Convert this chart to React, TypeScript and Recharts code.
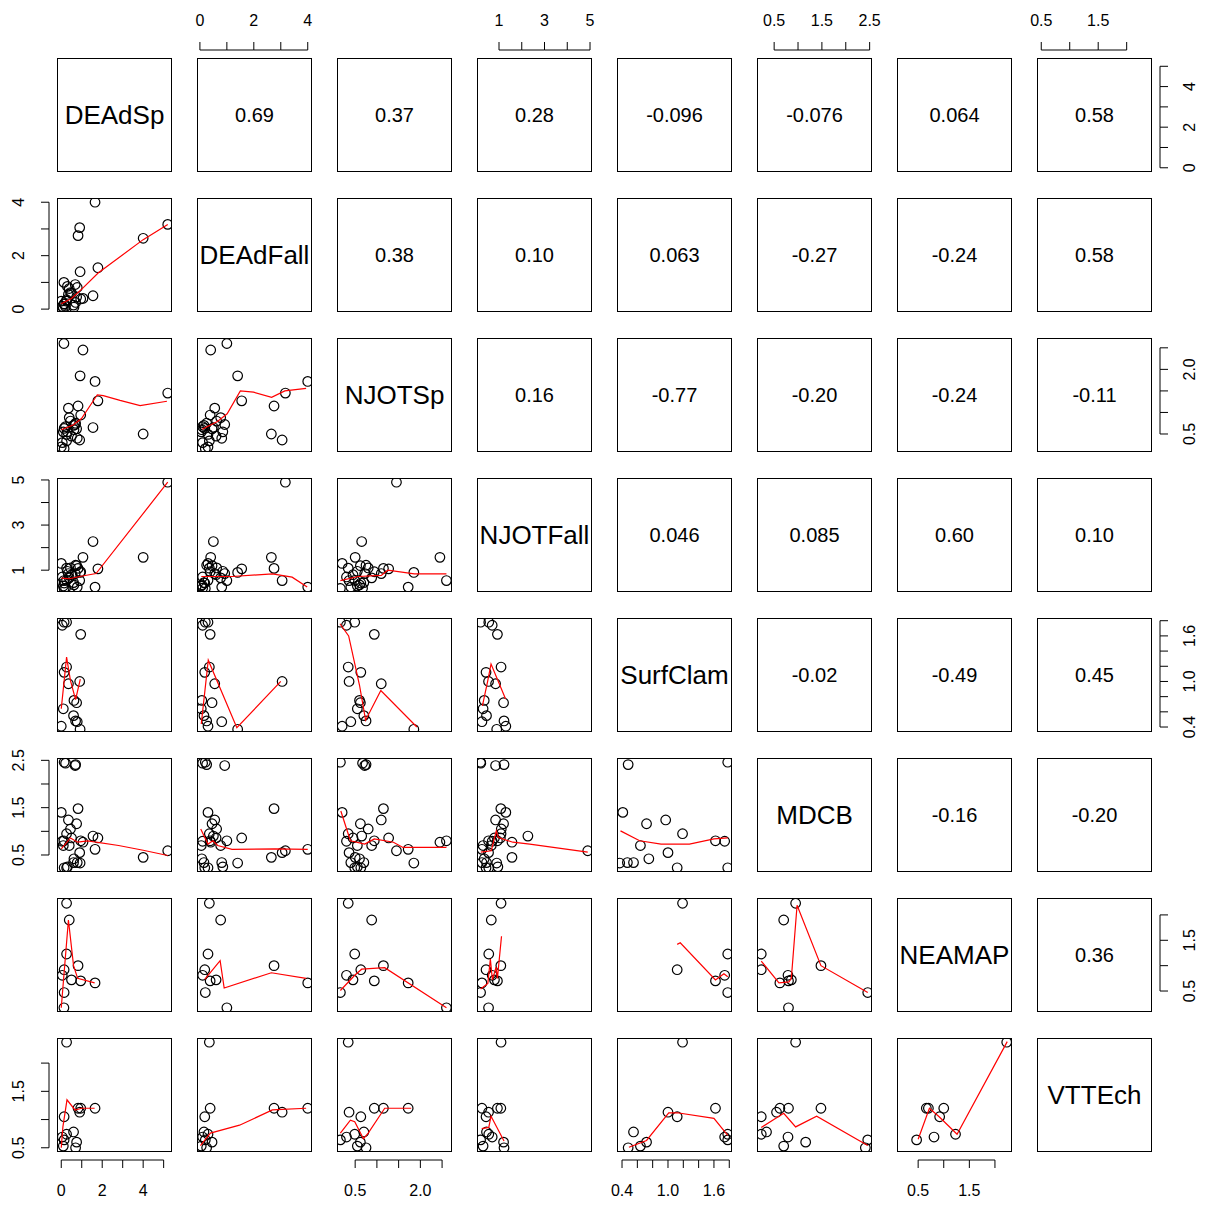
import React from "react";
import { ScatterChart, Scatter, XAxis, YAxis } from "recharts";

const varNames = ["DEAdSp", "DEAdFall", "NJOTSp", "NJOTFall", "SurfClam", "MDCB", "NEAMAP", "VTTEch"];

// one value per observation, null where the value is missing
const DEAdSp = [0.26, 0.39, 0.26, 0.14, 1.65, 0.82, 0.95, 0.9, 0.14, 0.05, 0.6, 0.75, 0.1, 0.7, 0.13, 0.5, 5.2, 4.0, 1.06, 1.55, 1.79, 0.92, 0.0, 0.35, 0.62, 0.78, 0.21, 0.68, 0.45, 0.3];
const DEAdFall = [0.35, 0.77, 0.3, 0.18, 4.0, 2.75, 0.38, 3.05, 0.2, 0.1, 0.15, 0.45, 0.05, 0.25, 1.0, 0.6, 3.17, 2.65, 0.4, 0.5, 1.55, 1.4, 0.3, 0.55, 0.07, 0.81, 0.1, 0.92, 0.62, 0.85];
const NJOTSp = [0.34, 0.88, 0.49, 0.63, 1.72, 1.15, 0.94, 0.36, 0.16, 0.3, 0.7, 0.62, 0.55, 0.75, 2.6, 0.45, 1.45, 0.5, 2.45, 0.65, 1.27, 1.85, 0.2, 1.1, 0.6, 0.4, 0.67, 0.72, 0.8, 0.55];
const NJOTFall = [1.09, 0.66, 0.55, 0.43, 0.25, 1.08, 0.93, 0.54, 0.19, 0.7, 0.45, 1.2, 0.3, 1.22, 0.54, 0.8, 4.9, 1.57, 1.57, 2.27, 1.06, 0.9, 1.3, 0.85, 0.35, 0.25, 0.2, 0.85, 1.1, 0.95];
const SurfClam = [1.19, null, 1.78, 1.12, null, null, 1.62, 1.0, 1.78, 1.74, 0.55, 0.72, 0.64, 0.48, null, null, null, null, null, null, null, 0.37, 0.41, 0.97, 0.75, 0.47, null, null, null, null];
const MDCB = [0.95, 0.7, 0.23, 0.23, 0.62, 1.48, 0.8, 0.55, 2.46, 0.79, 0.34, 1.16, 0.7, 2.41, 0.8, 0.86, 0.59, 0.45, 0.77, 0.9, 0.86, 0.33, 1.4, 1.24, 0.42, 0.34, 2.44, 2.39, 1.05, 0.25];
const NEAMAP = [2.23, 1.9, 1.23, 0.92, 0.66, 1.0, 0.7, null, 0.47, 0.81, null, null, null, null, 0.17, 0.72, null, null, null, null, null, null, null, null, null, null, null, null, null, null];
const VTTEch = [2.37, null, 0.74, 1.05, 1.2, 1.2, 1.2, 1.13, 0.64, 0.69, 0.78, 0.6, 0.53, 0.5, null, null, null, null, null, null, null, null, null, null, null, null, null, null, null, null];

const columns = [DEAdSp, DEAdFall, NJOTSp, NJOTFall, SurfClam, MDCB, NEAMAP, VTTEch];

// data range of each variable
const ranges = [[0, 5.2], [0.05, 4.0], [0.18, 2.63], [0.22, 4.9], [0.39, 1.78], [0.23, 2.46], [0.17, 2.25], [0.5, 2.37]];

const tickVals = [
  [0, 1, 2, 3, 4, 5],
  [0, 1, 2, 3, 4],
  [0.5, 1, 1.5, 2, 2.5],
  [1, 2, 3, 4, 5],
  [0.4, 0.6, 0.8, 1, 1.2, 1.4, 1.6, 1.8],
  [0.5, 1, 1.5, 2, 2.5],
  [0.5, 1, 1.5, 2],
  [0.5, 1, 1.5, 2],
];
const tickLabels = [
  ["0", "", "2", "", "4", ""],
  ["0", "", "2", "", "4"],
  ["0.5", "", "", "2.0", ""],
  ["1", "", "3", "", "5"],
  ["0.4", "", "", "1.0", "", "", "1.6", ""],
  ["0.5", "", "1.5", "", "2.5"],
  ["0.5", "", "1.5", ""],
  ["0.5", "", "1.5", ""],
];

const corRow1 = ["0.69", "0.37", "0.28", "-0.096", "-0.076", "0.064", "0.58"];
const corRow2 = ["0.38", "0.10", "0.063", "-0.27", "-0.24", "0.58"];
const corRow3 = ["0.16", "-0.77", "-0.20", "-0.24", "-0.11"];
const corRow4 = ["0.046", "0.085", "0.60", "0.10"];
const corRow5 = ["-0.02", "-0.49", "0.45"];
const corRow6 = ["-0.16", "-0.20"];
const corRow7 = ["0.36"];
const corRows = [corRow1, corRow2, corRow3, corRow4, corRow5, corRow6, corRow7];

// red smoother lines, [x, y] per panel (row, col)
const lo10 = [[0, 0.2], [0.5, 0.4], [1.0, 0.75], [1.8, 1.35], [4.0, 2.6], [5.2, 3.17]];
const lo20 = [[0, 0.6], [0.58, 0.71], [0.99, 0.86], [1.76, 1.41], [2.05, 1.39], [2.87, 1.28], [3.85, 1.16], [5.16, 1.26]];
const lo21 = [[0.08, 0.61], [0.65, 0.79], [1.01, 0.97], [1.5, 1.5], [1.99, 1.47], [2.66, 1.35], [3.15, 1.5], [3.94, 1.56]];
const lo30 = [[0, 0.65], [0.4, 0.62], [0.9, 0.72], [1.7, 0.85], [5.2, 4.9]];
const lo31 = [[0.05, 0.72], [1.2, 0.72], [2.69, 0.84], [3.42, 0.69], [3.98, 0.25]];
const lo32 = [[0.16, 0.54], [0.57, 0.72], [1.1, 0.77], [1.25, 1.0], [1.86, 0.84], [2.6, 0.84]];
const lo40 = [[0.0, 0.64], [0.26, 1.32], [0.45, 1.01], [0.7, 0.76], [0.93, 1.03]];
const lo41 = [[0.05, 0.44], [0.31, 1.28], [1.37, 0.39], [3.0, 1.0]];
const lo42 = [[0.15, 1.76], [0.35, 1.6], [0.6, 0.95], [0.74, 0.49], [1.09, 0.88], [1.92, 0.4]];
const lo43 = [[0.27, 0.68], [0.5, 1.0], [0.65, 1.23], [1.29, 0.77]];
const lo50 = [[0, 0.63], [0.45, 0.86], [0.8, 0.77], [1.3, 0.8], [1.7, 0.77], [2.8, 0.7], [4.0, 0.6], [5.2, 0.49]];
const lo51 = [[0.03, 1.05], [0.3, 0.73], [0.48, 0.8], [0.66, 0.7], [1.19, 0.62], [2.79, 0.63], [4.0, 0.62]];
const lo52 = [[0.17, 1.43], [0.39, 0.8], [0.72, 0.73], [0.94, 0.84], [1.38, 0.77], [1.6, 0.66], [2.6, 0.66]];
const lo53 = [[0.2, 0.56], [0.66, 0.59], [0.88, 1.01], [0.97, 0.87], [1.61, 0.77], [2.35, 0.73], [4.9, 0.56]];
const lo54 = [[0.38, 1.01], [0.63, 0.8], [0.91, 0.73], [1.28, 0.73], [1.6, 0.84], [1.78, 0.86]];
const lo60 = [[0, 0.17], [0.35, 1.9], [0.6, 1.0], [0.8, 0.75], [1.63, 0.66]];
const lo61 = [[0.18, 0.73], [0.75, 1.1], [0.9, 0.56], [2.65, 0.86], [3.94, 0.75]];
const lo62 = [[0.16, 0.51], [0.49, 0.81], [0.65, 0.93], [1.18, 0.96], [2.6, 0.17]];
const lo63 = [[0.19, 0.54], [0.51, 0.65], [0.62, 1.13], [0.71, 0.72], [0.87, 0.97], [0.93, 0.75], [1.11, 1.58]];
const lo64 = [[1.12, 1.42], [1.16, 1.45], [1.62, 0.72], [1.73, 0.84], [1.78, 0.78]];
const lo65 = [[0.23, 1.09], [0.6, 0.66], [0.81, 0.68], [0.86, 0.75], [0.98, 2.19], [1.48, 1.0], [2.46, 0.47]];
const lo70 = [[0, 0.5], [0.08, 0.87], [0.28, 1.35], [0.67, 1.17], [1.0, 1.2], [1.63, 1.2]];
const lo71 = [[0.02, 0.54], [0.39, 0.76], [1.47, 0.9], [2.69, 1.17], [3.94, 1.2]];
const lo72 = [[0.16, 0.76], [0.39, 0.99], [0.49, 0.96], [0.69, 0.66], [0.8, 0.76], [1.18, 1.2], [1.79, 1.2]];
const lo73 = [[0.24, 0.84], [0.55, 0.86], [0.65, 1.06], [1.22, 0.62]];
const lo74 = [[0.49, 0.51], [0.72, 0.63], [1.01, 1.12], [1.12, 1.12], [1.6, 1.02], [1.78, 0.72]];
const lo75 = [[0.23, 0.86], [0.7, 1.11], [0.95, 0.87], [1.39, 1.06], [2.46, 0.54]];
const lo76 = [[0.5, 0.65], [0.72, 1.2], [0.91, 1.05], [1.26, 0.74], [2.24, 2.38]];

const smooths: Record<string, number[][]> = {
  "10": lo10, "20": lo20, "21": lo21, "30": lo30, "31": lo31, "32": lo32,
  "40": lo40, "41": lo41, "42": lo42, "43": lo43,
  "50": lo50, "51": lo51, "52": lo52, "53": lo53, "54": lo54,
  "60": lo60, "61": lo61, "62": lo62, "63": lo63, "64": lo64, "65": lo65,
  "70": lo70, "71": lo71, "72": lo72, "73": lo73, "74": lo74, "75": lo75, "76": lo76,
};

const M = 50;
const AX = 2; // size given to a visible axis band (must be > 0 for ticks to draw)
const BW = 115;
const BH = 114;
const PITCH = 140;
const X0 = 57;
const Y0 = 58;
const GAP = 8;
const TL = 8;
const LAB = 38;
const FONT = "'Liberation Sans', Arial, sans-serif";

const ext = (v: number): [number, number] => {
  const [lo, hi] = ranges[v];
  const pad = 0.04 * (hi - lo);
  return [lo - pad, hi + pad];
};

const makeTick = (side: string, v: number) => (props: any) => {
  const { x, y, payload } = props;
  const val = payload.value;
  const vals = tickVals[v];
  const i = vals.findIndex((t) => Math.abs(t - val) < 1e-9);
  const label = i >= 0 ? tickLabels[v][i] : "";
  const last = i === vals.length - 1;
  const [a, b] = ext(v);
  const step = vals[1] - vals[0];
  const ts = { fontSize: 16, fontFamily: FONT, fill: "#000" };
  if (side === "top" || side === "bottom") {
    const base = side === "top" ? M : M + BH;
    const dir = side === "top" ? -1 : 1;
    const ay = base + dir * GAP;
    const px = (step / (b - a)) * BW;
    return (
      <g>
        <line x1={x} x2={x} y1={ay} y2={ay + dir * TL} stroke="#000" />
        {!last && <line x1={x} x2={x + px} y1={ay} y2={ay} stroke="#000" />}
        {label && (
          <text x={x} y={base + dir * LAB} textAnchor="middle" dominantBaseline="central" {...ts}>
            {label}
          </text>
        )}
      </g>
    );
  }
  const base = side === "left" ? M : M + BW;
  const dir = side === "left" ? -1 : 1;
  const ax = base + dir * GAP;
  const py = (step / (b - a)) * BH;
  const lx = base + dir * LAB;
  return (
    <g>
      <line x1={ax} x2={ax + dir * TL} y1={y} y2={y} stroke="#000" />
      {!last && <line x1={ax} x2={ax} y1={y} y2={y - py} stroke="#000" />}
      {label && (
        <text x={lx} y={y} textAnchor="middle" dominantBaseline="central" transform={`rotate(-90, ${lx}, ${y})`} {...ts}>
          {label}
        </text>
      )}
    </g>
  );
};

const Dot = (p: any) => <circle cx={p.cx} cy={p.cy} r={4.8} fill="none" stroke="#000" strokeWidth={1.2} />;
const NoDot = () => <g />;

const Panel = ({ r, c }: { r: number; c: number }) => {
  const xs = columns[c];
  const ys = columns[r];
  const pts: { x: number; y: number }[] = [];
  if (r > c) {
    xs.forEach((xv, k) => {
      const yv = ys[k];
      if (xv != null && yv != null) pts.push({ x: xv, y: yv });
    });
  }
  const sm = (smooths[`${r}${c}`] || []).map(([x, y]) => ({ x, y }));
  const topAxis = r === 0 && c % 2 === 1;
  const bottomAxis = r === 7 && c % 2 === 0;
  const leftAxis = c === 0 && r % 2 === 1;
  const rightAxis = c === 7 && r % 2 === 0;
  const xSide = topAxis ? "top" : "bottom";
  const ySide = leftAxis ? "left" : "right";
  const margin = {
    top: M - (topAxis ? AX : 0),
    bottom: M - (bottomAxis ? AX : 0),
    left: M - (leftAxis ? AX : 0),
    right: M - (rightAxis ? AX : 0),
  };
  return (
    <div style={{ position: "absolute", left: X0 + PITCH * c - M, top: Y0 + PITCH * r - M }}>
      <ScatterChart width={BW + 2 * M} height={BH + 2 * M} margin={margin}>
        <XAxis
          dataKey="x"
          type="number"
          xAxisId={0}
          domain={ext(c)}
          allowDataOverflow
          ticks={tickVals[c]}
          interval={0}
          orientation={xSide as any}
          hide={!(topAxis || bottomAxis)}
          height={AX}
          tickLine={false}
          axisLine={false}
          tickSize={0}
          tick={makeTick(xSide, c)}
        />
        <YAxis
          dataKey="y"
          type="number"
          yAxisId={0}
          domain={ext(r)}
          allowDataOverflow
          ticks={tickVals[r]}
          interval={0}
          orientation={ySide as any}
          hide={!(leftAxis || rightAxis)}
          width={AX}
          tickLine={false}
          axisLine={false}
          tickSize={0}
          tick={makeTick(ySide, r)}
        />
        <Scatter data={pts} shape={Dot} isAnimationActive={false} />
        <Scatter
          data={sm}
          shape={NoDot}
          line={{ stroke: "#ff0000", strokeWidth: 1.2 }}
          isAnimationActive={false}
        />
      </ScatterChart>
    </div>
  );
};

const Box = ({ r, c }: { r: number; c: number }) => {
  let text = "";
  let size = 20;
  if (r === c) {
    text = varNames[r];
    size = 26;
  } else if (c > r) {
    text = corRows[r][c - r - 1];
  }
  return (
    <div
      style={{
        position: "absolute",
        left: X0 + PITCH * c,
        top: Y0 + PITCH * r,
        width: BW,
        height: BH,
        boxSizing: "border-box",
        border: "1px solid #000",
        display: "flex",
        alignItems: "center",
        justifyContent: "center",
        fontFamily: FONT,
        fontSize: size,
        color: "#000",
        pointerEvents: "none",
        whiteSpace: "nowrap",
      }}
    >
      {text}
    </div>
  );
};

const idx = [0, 1, 2, 3, 4, 5, 6, 7];

export default function App() {
  return (
    <div style={{ position: "absolute", left: 0, top: 0, width: 1206, height: 1205, background: "#fff", overflow: "hidden" }}>
      {idx.map((r) => idx.map((c) => <Panel key={`p${r}${c}`} r={r} c={c} />))}
      {idx.map((r) => idx.map((c) => <Box key={`b${r}${c}`} r={r} c={c} />))}
    </div>
  );
}
